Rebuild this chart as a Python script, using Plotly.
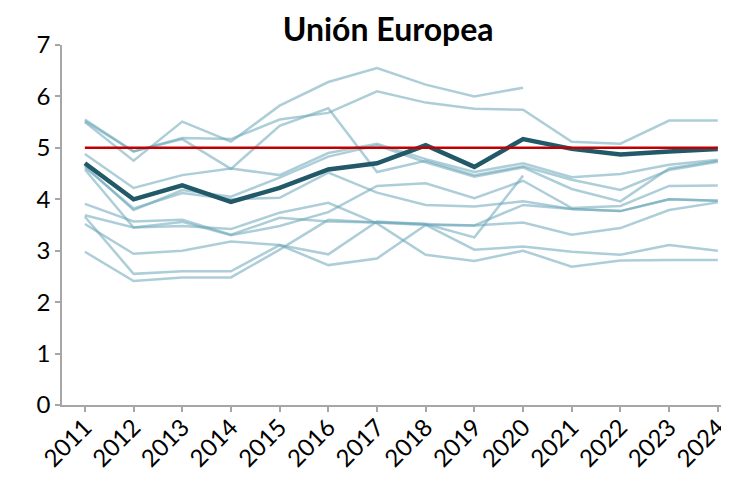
import plotly.graph_objects as go

years = [2011, 2012, 2013, 2014, 2015, 2016, 2017, 2018, 2019, 2020, 2021, 2022, 2023, 2024]

eu_average = [4.70, 4.00, 4.27, 3.95, 4.22, 4.58, 4.70, 5.05, 4.63, 5.17, 4.98, 4.87, 4.93, 4.98]
reference_level = [5, 5, 5, 5, 5, 5, 5, 5, 5, 5, 5, 5, 5, 5]

country_01 = [5.50, 4.75, 5.51, 5.12, 5.82, 6.28, 6.55, 6.23, 6.00, 6.17, None, None, None, None]
country_02 = [5.55, 4.93, 5.19, 5.17, 5.55, 5.68, 6.10, 5.88, 5.76, 5.74, 5.12, 5.08, 5.53, 5.53]
country_03 = [5.52, 4.93, 5.17, 4.59, 5.43, 5.77, 4.53, 4.75, 4.47, 4.64, 4.38, 4.18, 4.57, 4.73]
country_04 = [4.88, 4.22, 4.47, 4.60, 4.47, 4.90, 5.08, 4.78, 4.53, 4.70, 4.43, 4.49, 4.67, 4.77]
country_05 = [4.65, 3.79, 4.18, 4.05, 4.42, 4.83, 5.05, 4.72, 4.44, 4.62, 4.20, 3.96, 4.60, 4.75]
country_06 = [4.62, 3.82, 4.12, 4.00, 4.03, 4.52, 4.13, 3.89, 3.86, 3.96, 3.81, 3.77, 4.00, 3.97]
country_07 = [3.91, 3.57, 3.60, 3.31, 3.64, 3.57, 3.55, 3.50, 3.49, 3.55, 3.31, 3.44, 3.79, 3.94]
country_08 = [4.58, 3.45, 3.48, 3.42, 3.74, 3.93, 3.53, 2.92, 2.80, 3.00, 2.69, 2.81, 2.82, 2.82]
country_09 = [3.69, 3.45, 3.56, 3.30, 3.48, 3.75, 4.26, 4.31, 4.02, 4.36, 3.83, 3.87, 4.26, 4.27]
country_10 = [3.66, 2.55, 2.60, 2.60, 3.11, 2.93, 3.57, 3.52, 3.26, 4.46, None, None, None, None]
country_11 = [3.52, 2.94, 3.00, 3.18, 3.11, 2.72, 2.85, 3.50, 3.02, 3.08, 2.98, 2.92, 3.11, 3.00]
country_12 = [2.98, 2.41, 2.48, 2.48, 3.02, 3.60, 3.55, 3.52, 3.49, 3.89, 3.81, 3.77, 4.00, 3.97]

countries = [country_01, country_02, country_03, country_04, country_05, country_06,
             country_07, country_08, country_09, country_10, country_11, country_12]

y_ticks = [0, 1, 2, 3, 4, 5, 6, 7]
title_text = "Unión Europea"

fig = go.Figure()

for series in countries:
    fig.add_trace(go.Scatter(
        x=years, y=series, mode="lines",
        line=dict(color="rgba(105,165,184,0.55)", width=2.5),
        connectgaps=False, showlegend=False, hoverinfo="skip",
    ))

fig.add_trace(go.Scatter(
    x=years, y=eu_average, mode="lines",
    line=dict(color="#215968", width=4.5),
    showlegend=False,
))

fig.add_trace(go.Scatter(
    x=years, y=reference_level, mode="lines",
    line=dict(color="#C00000", width=2.5),
    showlegend=False,
))

font_family = "Lato, 'Open Sans', Arial, sans-serif"

fig.update_layout(
    width=729, height=486,
    margin=dict(l=54, r=8, t=37, b=89),
    paper_bgcolor="white", plot_bgcolor="white",
    title=dict(
        text="<b>" + title_text + "</b>",
        x=0.489, xref="paper", xanchor="center",
        y=0.955, yref="container", yanchor="middle",
        font=dict(family=font_family, size=32, color="black"),
    ),
    font=dict(family=font_family, size=23, color="black"),
    showlegend=False,
)

fig.update_xaxes(
    range=[2010.53, 2024.23],
    tickmode="array", tickvals=years, ticktext=[str(y) for y in years],
    tickangle=-45,
    showgrid=False, zeroline=False,
    showline=True, linecolor="#A6A6A6", linewidth=1.5,
    ticks="outside", ticklen=5, tickcolor="#A6A6A6", tickwidth=1.5,
    ticklabelstandoff=-8,
    tickfont=dict(family=font_family, size=24, color="black"),
)

fig.update_yaxes(
    range=[0, 7],
    tickmode="array", tickvals=y_ticks,
    showgrid=False, zeroline=False,
    showline=True, linecolor="#A6A6A6", linewidth=1.5,
    ticks="outside", ticklen=5, tickcolor="#A6A6A6", tickwidth=1.5,
    tickfont=dict(family=font_family, size=24, color="black"),
)

fig.write_html("out.html")
